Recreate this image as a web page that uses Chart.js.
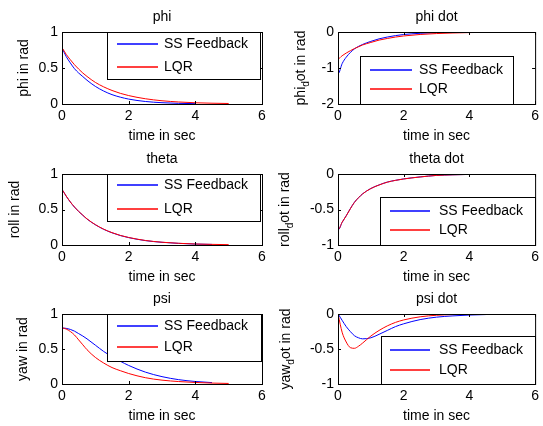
<!DOCTYPE html>
<html>
<head>
<meta charset="utf-8">
<script src="https://cdn.jsdelivr.net/npm/chart.js@4.4.0/dist/chart.umd.min.js"></script>
<style>
    body { margin: 0; background: #fff; }
    #figura { position: relative; width: 543px; height: 426px; background: #fff; }
    .celula { position: absolute; }
</style>
</head>
<body>
<div id="figura"></div>
<script>
// tempo de simulação (s)
const tempo = [0, 0.01, 0.125, 0.25, 0.375, 0.5, 0.625, 0.75, 1, 1.25, 1.5, 1.75, 2, 2.5, 3, 3.5, 4, 4.5, 5];

// series
const phiSS = [0.78, 0.77, 0.66, 0.57, 0.49, 0.43, 0.38, 0.33, 0.245, 0.18, 0.13, 0.095, 0.068, 0.035, 0.018, 0.009, 0.005, null, null];
const phiLQR = [0.78, 0.775, 0.69, 0.615, 0.545, 0.485, 0.43, 0.383, 0.30, 0.238, 0.188, 0.148, 0.117, 0.073, 0.045, 0.028, 0.017, 0.011, 0.007];

const phiPontoSS = [0, -1.15, -0.88, -0.70, -0.57, -0.47, -0.40, -0.345, -0.26, -0.19, -0.14, -0.10, -0.07, -0.036, -0.018, -0.009, -0.005, -0.002, -0.001];
const phiPontoLQR = [0, -0.74, -0.66, -0.585, -0.52, -0.46, -0.41, -0.36, -0.29, -0.225, -0.18, -0.14, -0.11, -0.069, -0.043, -0.027, -0.016, -0.010, -0.006];

const thetaSS = [0.78, 0.775, 0.688, 0.605, 0.533, 0.471, 0.418, 0.366, 0.285, 0.221, 0.172, 0.133, 0.104, 0.062, 0.038, 0.023, 0.013, 0.008, null];
const thetaLQR = [0.78, 0.775, 0.69, 0.607, 0.535, 0.473, 0.42, 0.368, 0.287, 0.223, 0.174, 0.135, 0.106, 0.064, 0.039, 0.024, 0.014, 0.009, 0.005];

const thetaPontoSS = [0, -0.785, -0.682, -0.588, -0.488, -0.398, -0.333, -0.279, -0.204, -0.154, -0.114, -0.089, -0.069, -0.041, -0.02, -0.011, -0.006, -0.003, null];
const thetaPontoLQR = [0, -0.78, -0.68, -0.59, -0.49, -0.40, -0.335, -0.28, -0.205, -0.155, -0.115, -0.09, -0.07, -0.042, -0.02, -0.011, -0.006, -0.003, -0.001];

const psiSS = [0.80, 0.80, 0.795, 0.78, 0.755, 0.72, 0.685, 0.645, 0.555, 0.465, 0.39, 0.325, 0.265, 0.17, 0.105, 0.062, 0.036, 0.02, null];
const psiLQR = [0.80, 0.80, 0.785, 0.75, 0.70, 0.63, 0.56, 0.49, 0.38, 0.30, 0.235, 0.19, 0.15, 0.09, 0.055, 0.035, 0.022, 0.013, 0.008];

const psiPontoSS = [0, -0.005, -0.09, -0.18, -0.25, -0.31, -0.34, -0.355, -0.34, -0.29, -0.235, -0.18, -0.14, -0.08, -0.045, -0.027, -0.015, -0.008, null];
const psiPontoLQR = [0, -0.02, -0.26, -0.40, -0.48, -0.49, -0.46, -0.415, -0.315, -0.235, -0.17, -0.12, -0.085, -0.04, -0.018, -0.008, -0.004, -0.002, -0.001];

const legendas = ['SS Feedback', 'LQR'];
const cores = ['#0000ff', '#ff0000'];
const ticksX = [0, 2, 4, 6];
const ticksAngulo = [0, 0.5, 1];
const ticksPhiPonto = [-2, -1, 0];
const ticksPonto = [-1, -0.5, 0];

const fonte = '"Liberation Sans", Arial, Helvetica, sans-serif';
Chart.defaults.font.family = fonte;
Chart.defaults.font.size = 14;
Chart.defaults.color = '#000';

// celula = [esq, topo, dir, base] na figura; area = retangulo dos eixos
const graficos = [
    { titulo: 'phi', rotulo: [{ t: 'phi in rad' }], rotuloX: 24,
      celula: [0, 0, 272, 142], area: [62, 32, 262, 104],
      ss: phiSS, lqr: phiLQR, ticksY: ticksAngulo,
      leg: { x: 45, y: 0, w: 153, h: 47, linhas: [12, 35], amostra: [10, 51], texto: 57 } },
    { titulo: 'phi dot', rotulo: [{ t: 'phi' }, { t: 'd', sub: true }, { t: 'ot in rad' }], rotuloX: 301,
      celula: [272, 0, 543, 142], area: [338, 32, 537, 104],
      ss: phiPontoSS, lqr: phiPontoLQR, ticksY: ticksPhiPonto,
      leg: { x: 22, y: 24, w: 153, h: 48, linhas: [14, 33], amostra: [10, 52], texto: 59 } },
    { titulo: 'theta', rotulo: [{ t: 'roll in rad' }], rotuloX: 15,
      celula: [0, 142, 272, 284], area: [62, 174, 262, 245],
      ss: thetaSS, lqr: thetaLQR, ticksY: ticksAngulo,
      leg: { x: 45, y: 0, w: 153, h: 47, linhas: [11, 35], amostra: [10, 51], texto: 57 } },
    { titulo: 'theta dot', rotulo: [{ t: 'roll' }, { t: 'd', sub: true }, { t: 'ot in rad' }], rotuloX: 285,
      celula: [272, 142, 543, 284], area: [338, 174, 537, 245],
      ss: thetaPontoSS, lqr: thetaPontoLQR, ticksY: ticksPonto,
      leg: { x: 42, y: 23, w: 155, h: 48, linhas: [14, 33], amostra: [10, 50], texto: 59 } },
    { titulo: 'psi', rotulo: [{ t: 'yaw in rad' }], rotuloX: 23,
      celula: [0, 284, 272, 426], area: [62, 314, 262, 384],
      ss: psiSS, lqr: psiLQR, ticksY: ticksAngulo,
      leg: { x: 45, y: 0, w: 154, h: 47, linhas: [12, 33], amostra: [10, 51], texto: 57 } },
    { titulo: 'psi dot', rotulo: [{ t: 'yaw' }, { t: 'd', sub: true }, { t: 'ot in rad' }], rotuloX: 286,
      celula: [272, 284, 543, 426], area: [338, 314, 537, 384],
      ss: psiPontoSS, lqr: psiPontoLQR, ticksY: ticksPonto,
      leg: { x: 43, y: 22, w: 154, h: 48, linhas: [14, 34], amostra: [9, 49], texto: 58 } }
];

// caixa, ticks internos, legenda e textos no estilo do matlab
const eixosMatlab = {
    id: 'eixosMatlab',
    afterDatasetsDraw(chart, args, o) {
        const ctx = chart.ctx;
        const a = chart.chartArea;
        ctx.save();
        ctx.strokeStyle = '#000';
        ctx.lineWidth = 1;
        ctx.strokeRect(a.left + 0.5, a.top + 0.5, a.right - a.left, a.bottom - a.top);

        ctx.beginPath();
        chart.scales.x.ticks.forEach(t => {
            const px = Math.round(chart.scales.x.getPixelForValue(t.value)) + 0.5;
            ctx.moveTo(px, a.bottom); ctx.lineTo(px, a.bottom - 3);
            ctx.moveTo(px, a.top); ctx.lineTo(px, a.top + 3);
        });
        chart.scales.y.ticks.forEach(t => {
            const py = Math.round(chart.scales.y.getPixelForValue(t.value)) + 0.5;
            ctx.moveTo(a.left, py); ctx.lineTo(a.left + 3, py);
            ctx.moveTo(a.right, py); ctx.lineTo(a.right - 3, py);
        });
        ctx.stroke();

        // legenda
        const lg = o.leg;
        const bx = a.left + lg.x;
        const by = a.top + lg.y;
        ctx.fillStyle = '#fff';
        ctx.fillRect(bx, by, lg.w, lg.h);
        ctx.strokeStyle = '#000';
        ctx.strokeRect(bx + 0.5, by + 0.5, lg.w, lg.h);
        ctx.font = '14px ' + fonte;
        ctx.textBaseline = 'middle';
        ctx.textAlign = 'left';
        legendas.forEach((nome, i) => {
            const ly = by + lg.linhas[i];
            ctx.beginPath();
            ctx.strokeStyle = cores[i];
            ctx.lineWidth = 1.5;
            ctx.moveTo(bx + lg.amostra[0], ly);
            ctx.lineTo(bx + lg.amostra[1], ly);
            ctx.stroke();
            ctx.fillStyle = '#000';
            ctx.fillText(nome, bx + lg.texto, ly + 0.5);
        });

        // titulo e rotulo do eixo x
        ctx.fillStyle = '#000';
        ctx.textAlign = 'center';
        ctx.textBaseline = 'alphabetic';
        ctx.fillText(o.titulo, (a.left + a.right) / 2, a.top - 11);
        ctx.fillText('time in sec', (a.left + a.right) / 2, a.bottom + 36);

        // rotulo do eixo y (com subscrito)
        ctx.translate(o.rotuloX, (a.top + a.bottom) / 2);
        ctx.rotate(-Math.PI / 2);
        ctx.textBaseline = 'middle';
        ctx.textAlign = 'left';
        let total = 0;
        o.rotulo.forEach(p => {
            ctx.font = (p.sub ? '10px ' : '14px ') + fonte;
            total += ctx.measureText(p.t).width;
        });
        let cx = -total / 2;
        o.rotulo.forEach(p => {
            ctx.font = (p.sub ? '10px ' : '14px ') + fonte;
            ctx.fillText(p.t, cx, p.sub ? 5 : 0);
            cx += ctx.measureText(p.t).width;
        });
        ctx.restore();
    }
};

const figura = document.getElementById('figura');

graficos.forEach(g => {
    const [ce, ct, cd, cb] = g.celula;
    const [ae, at, ad, ab] = g.area;
    const div = document.createElement('div');
    div.className = 'celula';
    div.style.left = ce + 'px';
    div.style.top = ct + 'px';
    const canvas = document.createElement('canvas');
    canvas.width = cd - ce;
    canvas.height = cb - ct;
    div.appendChild(canvas);
    figura.appendChild(div);

    new Chart(canvas.getContext('2d'), {
        type: 'line',
        data: {
            datasets: [
                {
                    label: legendas[0],
                    data: tempo.map((t, i) => ({ x: t, y: g.ss[i] })),
                    borderColor: cores[0],
                    order: 2
                },
                {
                    label: legendas[1],
                    data: tempo.map((t, i) => ({ x: t, y: g.lqr[i] })),
                    borderColor: cores[1],
                    order: 1
                }
            ]
        },
        options: {
            responsive: false,
            animation: false,
            events: [],
            layout: { padding: { left: 0, top: at - ct, right: cd - ad, bottom: 0 } },
            elements: {
                point: { radius: 0 },
                line: { borderWidth: 1, cubicInterpolationMode: 'monotone', fill: false }
            },
            plugins: {
                legend: { display: false },
                tooltip: { enabled: false },
                eixosMatlab: { titulo: g.titulo, rotulo: g.rotulo, rotuloX: g.rotuloX - ce, leg: g.leg }
            },
            scales: {
                x: {
                    type: 'linear',
                    min: 0,
                    max: 6,
                    grid: { display: false, drawTicks: false },
                    border: { display: false },
                    ticks: { padding: 4, maxRotation: 0, callback: v => String(v) },
                    afterBuildTicks: s => { s.ticks = ticksX.map(v => ({ value: v })); },
                    afterFit: s => { s.height = cb - ab; }
                },
                y: {
                    type: 'linear',
                    min: g.ticksY[0],
                    max: g.ticksY[g.ticksY.length - 1],
                    grid: { display: false, drawTicks: false },
                    border: { display: false },
                    ticks: { padding: 4, callback: v => String(v) },
                    afterBuildTicks: s => { s.ticks = g.ticksY.map(v => ({ value: v })); },
                    afterFit: s => { s.width = ae - ce; }
                }
            }
        },
        plugins: [eixosMatlab]
    });
});
</script>
</body>
</html>
